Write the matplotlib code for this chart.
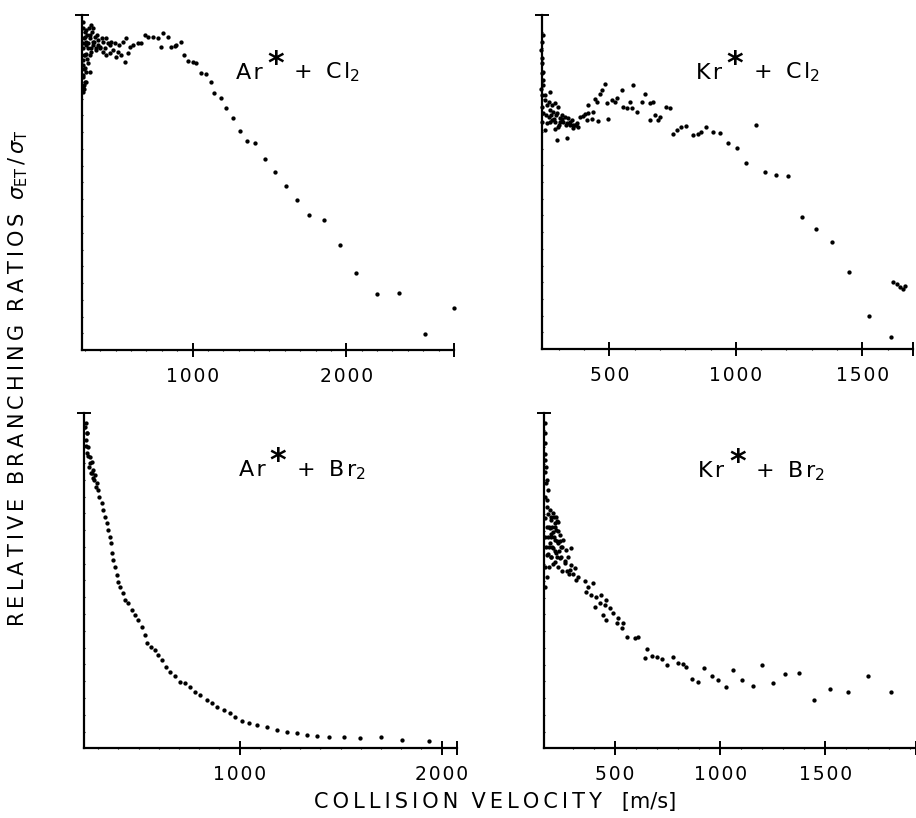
import matplotlib.pyplot as plt
import numpy as np

plt.rcParams['font.family'] = 'DejaVu Sans'
plt.rcParams['mathtext.fontset'] = 'dejavusans'

# Ar* + Cl2
v_arcl = [288, 290, 292, 289, 291, 287, 290, 293, 288,
          342, 310, 299, 332, 364, 288, 321, 353, 386, 418, 451, 397, 429, 462, 494,
          375, 342, 310, 288, 321, 299, 332, 288, 310, 285, 483, 516, 537, 505, 462,
          300, 315, 330, 345, 360, 305, 320, 340, 355, 370, 385, 400, 300, 315, 330,
          295, 310, 300, 295, 305, 325, 350, 380, 410, 440, 470, 520, 545, 420, 440,
          570, 581, 559, 591, 613, 646, 667, 689, 710, 743, 775, 797, 808, 840, 862,
          884, 895, 927, 942, 970, 1003, 1024, 1057, 1089, 1122,
          1139, 1188, 1221, 1264, 1312, 1355, 1405, 1474, 1535, 1606, 1680, 1758,
          1853, 1957, 2065, 2199, 2342, 2511, 2699]
r_arcl = [0.98, 0.96, 0.93, 0.90, 0.88, 0.85, 0.82, 0.79, 0.77,
          0.970, 0.955, 0.935, 0.940, 0.935, 0.915, 0.915, 0.920, 0.925, 0.920, 0.915,
          0.905, 0.900, 0.910, 0.915, 0.895, 0.890, 0.885, 0.866, 0.856, 0.841, 0.831,
          0.816, 0.801, 0.786, 0.895, 0.890, 0.880, 0.876, 0.886,
          0.95, 0.94, 0.93, 0.95, 0.92, 0.91, 0.90, 0.90, 0.91, 0.90, 0.91, 0.90, 0.88,
          0.87, 0.88, 0.84, 0.83, 0.80, 0.78, 0.92, 0.96, 0.96, 0.94, 0.93, 0.93, 0.92,
          0.91, 0.92, 0.89, 0.88,
          0.930, 0.886, 0.861, 0.905, 0.910, 0.915, 0.915, 0.940, 0.935, 0.933, 0.930,
          0.905, 0.945, 0.935, 0.905, 0.907, 0.910, 0.918, 0.881, 0.864, 0.859, 0.856,
          0.828, 0.824, 0.801,
          0.766, 0.753, 0.721, 0.692, 0.654, 0.624, 0.617, 0.569, 0.530, 0.490, 0.448,
          0.403, 0.388, 0.313, 0.229, 0.167, 0.171, 0.047, 0.124]

# Kr* + Cl2
v_krcl = [231, 236, 233, 240, 231, 236, 244, 233, 240, 233, 246, 253,
          266, 260, 273, 286, 299, 266, 279, 292, 312, 306, 325, 338, 352, 332, 319,
          345, 365, 378, 371, 358, 299, 286, 260, 273, 384, 398, 404, 417, 437, 411,
          430, 457, 496, 292, 332, 417, 450, 444, 463, 470, 483, 490, 509, 529, 522,
          549, 555, 568, 582, 595, 588, 608, 628, 641, 660, 674, 680, 693, 700, 660,
          726, 739,
          270, 280, 290, 305, 315, 330, 345, 355, 370, 300, 285, 265, 250, 255, 245,
          240, 238, 235, 234, 240,
          752, 766, 785, 805, 831, 851, 864, 884, 910, 937, 969, 1005, 1039, 1078,
          1117, 1160, 1206, 1262, 1318, 1381, 1449, 1525, 1614,
          1623, 1636, 1649, 1660, 1670]
r_krcl = [0.895, 0.855, 0.825, 0.805, 0.780, 0.760, 0.745, 0.726, 0.706, 0.681, 0.656, 0.676,
          0.770, 0.741, 0.731, 0.736, 0.726, 0.716, 0.711, 0.706, 0.701, 0.691, 0.696,
          0.691, 0.686, 0.676, 0.681, 0.671, 0.671, 0.664, 0.678, 0.661, 0.666, 0.681,
          0.696, 0.686, 0.694, 0.698, 0.704, 0.708, 0.711, 0.686, 0.688, 0.684, 0.688,
          0.626, 0.633, 0.731, 0.741, 0.750, 0.765, 0.775, 0.795, 0.736, 0.746, 0.753,
          0.741, 0.775, 0.726, 0.721, 0.741, 0.790, 0.721, 0.711, 0.741, 0.765, 0.736,
          0.741, 0.701, 0.686, 0.696, 0.686, 0.726, 0.721,
          0.70, 0.69, 0.70, 0.68, 0.69, 0.67, 0.68, 0.67, 0.67, 0.67, 0.66, 0.68, 0.70,
          0.73, 0.76, 0.79, 0.83, 0.87, 0.92, 0.94,
          0.643, 0.656, 0.664, 0.668, 0.641, 0.644, 0.651, 0.666, 0.649, 0.648, 0.618,
          0.601, 0.558, 0.670, 0.531, 0.521, 0.518, 0.396, 0.358, 0.320, 0.231, 0.099,
          0.035, 0.202, 0.195, 0.187, 0.181, 0.189]

# Ar* + Br2
v_arbr = [235, 243, 240, 251, 246, 259, 268, 256, 276, 263, 284, 276, 292, 301, 306,
          317, 326, 334, 342, 350, 359, 362, 367, 375, 383, 392, 400, 408, 421, 433,
          450, 466, 483, 499, 516, 532, 544, 560, 582, 598, 615, 636, 656, 681, 706,
          731, 755, 780, 805, 838, 863, 888, 921, 954, 979, 1012, 1045, 1086, 1136,
          1185, 1235, 1284, 1334, 1383, 1441, 1516, 1598, 1698, 1805, 1937,
          240, 250, 262, 270, 280, 290, 245, 238]
r_arbr = [0.958, 0.938, 0.919, 0.899, 0.879, 0.869, 0.854, 0.839, 0.829, 0.819, 0.814,
          0.804, 0.789, 0.770, 0.750, 0.730, 0.710, 0.690, 0.670, 0.650, 0.631, 0.611,
          0.581, 0.561, 0.541, 0.516, 0.497, 0.482, 0.462, 0.442, 0.432, 0.412, 0.397,
          0.382, 0.362, 0.338, 0.313, 0.303, 0.293, 0.278, 0.263, 0.243, 0.228, 0.214,
          0.199, 0.194, 0.184, 0.169, 0.159, 0.144, 0.134, 0.124, 0.114, 0.104, 0.094,
          0.081, 0.076, 0.070, 0.063, 0.055, 0.050, 0.045, 0.040, 0.037, 0.035, 0.033,
          0.030, 0.035, 0.025, 0.022,
          0.90, 0.87, 0.85, 0.82, 0.80, 0.78, 0.94, 0.97]

# Kr* + Br2
v_krbr = [166, 169, 166, 173, 166, 176, 169, 179, 166, 173, 179, 169, 176, 166,
          190, 206, 222, 198, 214, 230, 190, 206, 222, 237, 198, 214, 190, 230, 253,
          206, 245, 222, 269, 293, 198, 237, 277, 214, 261, 293, 309, 285, 324, 317,
          356, 372, 396, 364, 388, 411, 435, 459, 427, 404, 451, 475, 491, 443, 514,
          459, 538,
          180, 195, 210, 225, 185, 200, 215, 230, 180, 195, 210, 225, 240, 185, 200,
          215, 235, 250, 180, 195, 225, 245, 265, 185, 205, 230, 250, 270, 280, 300,
          175, 180, 175, 172, 170, 168, 168,
          508, 532, 555, 595, 611, 650, 642, 674, 698, 722, 745, 777, 801, 824, 840,
          864, 896, 923, 959, 991, 1030, 1062, 1102, 1154, 1197, 1253, 1307, 1375,
          1444, 1520, 1607, 1702, 1813]
r_krbr = [0.910, 0.861, 0.826, 0.791, 0.751, 0.721, 0.687, 0.662, 0.632, 0.602, 0.577,
          0.542, 0.512, 0.483,
          0.711, 0.701, 0.692, 0.682, 0.672, 0.677, 0.657, 0.647, 0.652, 0.637, 0.632,
          0.622, 0.612, 0.612, 0.622, 0.597, 0.602, 0.582, 0.592, 0.597, 0.572, 0.567,
          0.572, 0.557, 0.552, 0.547, 0.537, 0.532, 0.512, 0.502, 0.498, 0.483, 0.493,
          0.468, 0.458, 0.453, 0.458, 0.443, 0.433, 0.423, 0.428, 0.418, 0.403, 0.398,
          0.388, 0.383, 0.375,
          0.70, 0.69, 0.69, 0.68, 0.66, 0.66, 0.66, 0.65, 0.63, 0.64, 0.63, 0.62, 0.62,
          0.60, 0.60, 0.59, 0.59, 0.60, 0.58, 0.57, 0.57, 0.57, 0.56, 0.54, 0.55, 0.54,
          0.53, 0.53, 0.52, 0.52,
          0.74, 0.77, 0.80, 0.84, 0.88, 0.94, 0.97,
          0.373, 0.358, 0.333, 0.328, 0.333, 0.296, 0.269, 0.277, 0.274, 0.266, 0.249,
          0.274, 0.256, 0.252, 0.244, 0.207, 0.199, 0.239, 0.217, 0.204, 0.184, 0.234,
          0.204, 0.186, 0.249, 0.196, 0.222, 0.226, 0.144, 0.176, 0.169, 0.217, 0.169]


def spaced(s, sep='\u2009'):
    # wide letter spacing like the old lettering stencil
    return sep.join(s)


fig = plt.figure(figsize=(9.16, 8.18), dpi=100)

panels = [
    ([0.0895, 0.5721, 0.406, 0.4096], v_arcl, r_arcl, (281, 2700), [1000, 2000], 'Ar', 'Cl'),
    ([0.5914, 0.5733, 0.4053, 0.4083], v_krcl, r_krcl, (233, 1700), [500, 1000, 1500], 'Kr', 'Cl'),
    ([0.0917, 0.0852, 0.4069, 0.4103], v_arbr, r_arbr, (230, 2075), [1000, 2000], 'Ar', 'Br'),
    ([0.5939, 0.0852, 0.4060, 0.4095], v_krbr, r_krbr, (163, 1930), [500, 1000, 1500], 'Kr', 'Br'),
]

for rect, v, r, xl, ticks, atom, mol in panels:
    ax = fig.add_axes(rect)
    ax.plot(v, r, 'o', color='black', markersize=3.1, markeredgewidth=0, clip_on=False)
    ax.set_xlim(xl)
    ax.set_ylim(0, 1)
    ax.spines['top'].set_visible(False)
    ax.spines['right'].set_visible(False)
    ax.spines['left'].set_linewidth(1.6)
    ax.spines['bottom'].set_linewidth(1.6)
    ax.set_xticks(ticks + [xl[1]])
    ax.set_xticklabels([spaced(str(t), '\u200a') for t in ticks] + [''])
    ax.set_xticks(np.arange(300, xl[1], 100), minor=True)
    ax.set_yticks([1])
    ax.set_yticklabels([])
    ax.set_yticks(np.arange(0.05, 1, 0.05), minor=True)
    ax.tick_params(which='major', direction='inout', length=10, width=1.4, labelsize=13.5, pad=7)
    ax.tick_params(which='minor', direction='inout', length=2, width=0.8)
    # reaction label: atom, raised star, "+ molecule"
    pos = (0.415, 0.81)
    ax.annotate(spaced(atom, '\u200a'), xy=pos, xycoords='axes fraction', fontsize=16, va='baseline')
    ax.annotate('*', xy=pos, xycoords='axes fraction', xytext=(31, 6), textcoords='offset pixels',
                fontsize=23, fontweight='bold', va='baseline')
    ax.annotate('+  ' + spaced(mol, '\u200a') + '$_2$', xy=pos, xycoords='axes fraction',
                xytext=(57, 0), textcoords='offset pixels', fontsize=16, va='baseline')

fig.text(0.02, 0.538, spaced('RELATIVE') + '  ' + spaced('BRANCHING') + '  ' + spaced('RATIOS')
         + r'  $\sigma_{\mathrm{ET}}\,/\,\sigma_{\mathrm{T}}$',
         rotation=90, ha='center', va='center', fontsize=15)
fig.text(0.541, 0.0196, spaced('COLLISION') + '  ' + spaced('VELOCITY') + '   [m/s]',
         ha='center', va='center', fontsize=15)

fig.savefig('out.png', dpi=100)
